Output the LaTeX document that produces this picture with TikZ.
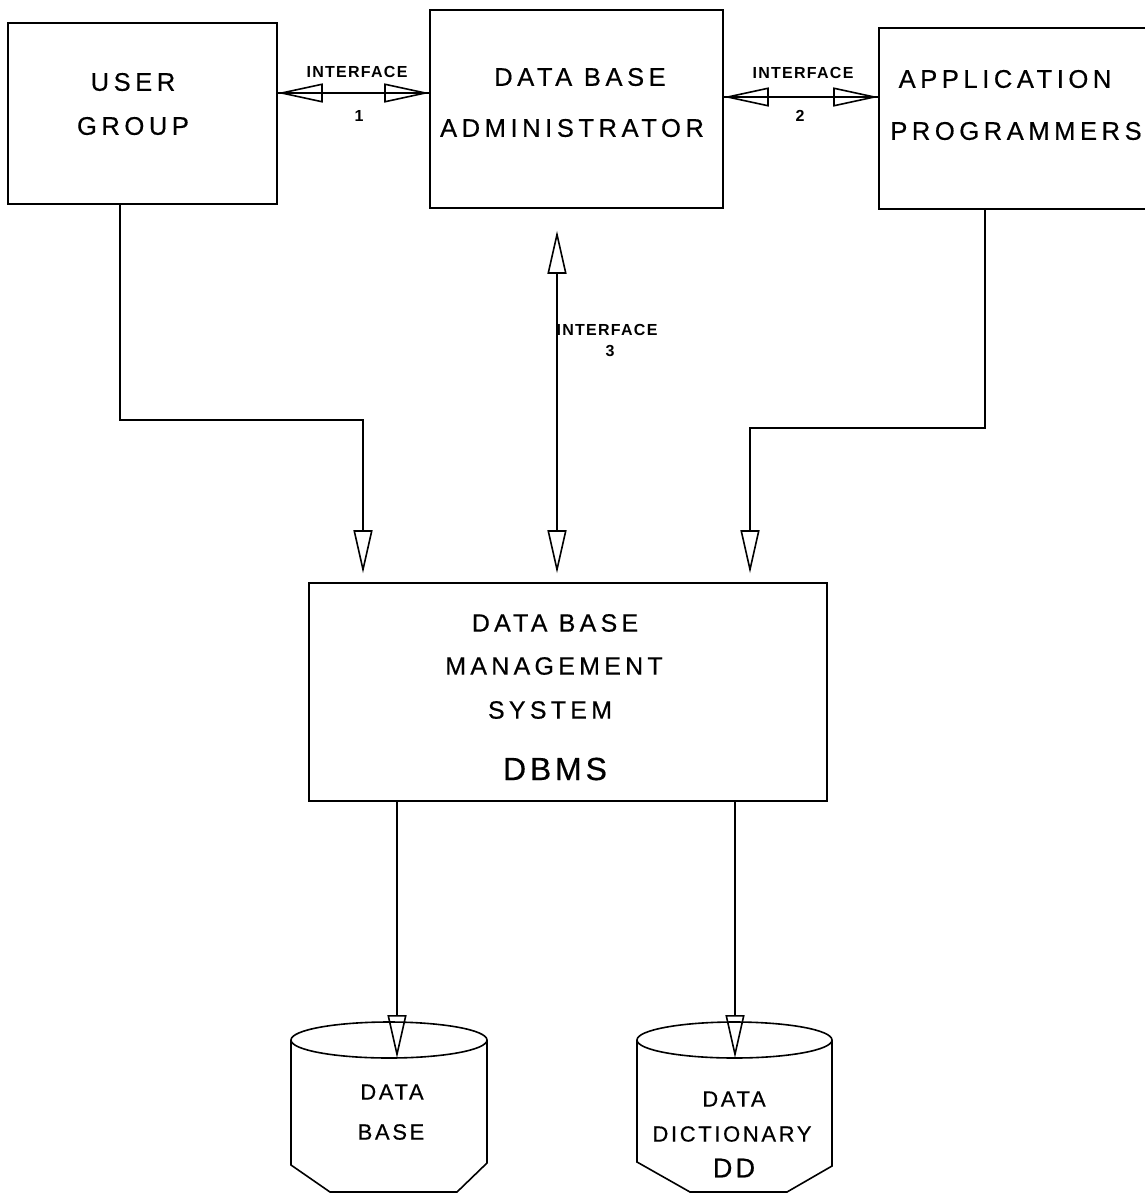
\documentclass[tikz,border=0pt]{standalone}
\usepackage{fontspec}
\setmainfont{Liberation Sans}
\newfontfamily\bigf[LetterSpace=18,FakeBold=0.5]{Liberation Sans}
\newfontfamily\midf[LetterSpace=17,FakeBold=0.5]{Liberation Sans}
\newfontfamily\cylf[LetterSpace=12,FakeBold=0.5]{Liberation Sans}
\newfontfamily\smf[LetterSpace=8]{Liberation Sans}
\usetikzlibrary{arrows.meta,calc}
\begin{document}
\begin{tikzpicture}[x=1pt,y=-1pt,line width=1.6pt,
  box/.style={draw,rectangle,inner sep=0pt,line width=1.6pt},
  bigtxt/.style={font=\bigf\fontsize{25.5}{30}\selectfont,inner sep=0pt},
  midtxt/.style={font=\midf\fontsize{25}{29}\selectfont,inner sep=0pt},
  dbmstxt/.style={font=\cylf\fontsize{32}{36}\selectfont,inner sep=0pt},
  cyltxt/.style={font=\cylf\fontsize{22}{26}\selectfont,inner sep=0pt},
  ddtxt/.style={font=\cylf\fontsize{27}{31}\selectfont,inner sep=0pt},
  smtxt/.style={font=\smf\bfseries\fontsize{16}{19}\selectfont,inner sep=0pt},
  tipend/.style={-{Triangle[open,length=43pt,width=19pt]}},
  tipboth/.style={{Triangle[open,length=43pt,width=19pt]}-{Triangle[open,length=43pt,width=19pt]}},
  tiphz/.style={{Triangle[open,length=45pt,width=19pt]}-{Triangle[open,length=45pt,width=19pt]}}
]
\useasboundingbox (0,0) rectangle (1145,1195);
\fill[white] (0,0) rectangle (1145,1195);

% boxes
\node[box,minimum width=269pt,minimum height=181pt] (ug) at (142.5,113.5) {};
\node[box,minimum width=293pt,minimum height=198pt] (dba) at (576.5,109) {};
\node[box,minimum width=271pt,minimum height=181pt] (ap) at (1014.5,118.5) {};
\node[box,minimum width=518pt,minimum height=218pt] (dbms) at (568,692) {};

% box texts
\node[bigtxt] (ug1) at (133,82) {USER};
\node[bigtxt] (ug2) at (133,126) {GROUP};
\node[bigtxt] (dba1) at (580,77) {DATA BASE};
\node[bigtxt] (dba2) at (572,128) {ADMINISTRATOR};
\node[bigtxt] (ap1) at (1005,79) {APPLICATION};
\node[bigtxt] (ap2) at (1016,131) {PROGRAMMERS};
\node[midtxt] (db1) at (555,623) {DATA BASE};
\node[midtxt] (db2) at (554,666) {MANAGEMENT};
\node[midtxt] (db3) at (550,710) {SYSTEM};
\node[dbmstxt] (db4) at (555,769) {DBMS};

% interfaces 1 and 2
\coordinate (i1) at (350,93);
\coordinate (i2) at (800,97);
\draw (ug.east |- i1) -- (dba.west |- i1);
\draw[tiphz] (ug.east |- i1) -- (dba.west |- i1);
\draw (dba.east |- i2) -- (ap.west |- i2);
\draw[tiphz] (dba.east |- i2) -- (ap.west |- i2);
\node[smtxt] (if1) at (357,72) {INTERFACE};
\node[smtxt] (if1n) at (359,116) {1};
\node[smtxt] (if2) at (803,73) {INTERFACE};
\node[smtxt] (if2n) at (800,116) {2};

% interface 3
\coordinate (i3) at (557,400);
\draw[tipboth,shorten <=22pt,shorten >=9pt] (dba.south -| i3) -- (dbms.north -| i3);
\node[smtxt] (if3) at (607,330) {INTERFACE};
\node[smtxt] (if3n) at (610,351) {3};

% user group -> dbms
\coordinate (ub1) at (120,420);
\coordinate (ub2) at (363,420);
\draw[tipend,shorten >=9pt] (ug.south -| ub1) -- (ub1) -- (ub2) -- (dbms.north -| ub2);

% application programmers -> dbms
\coordinate (ab1) at (985,428);
\coordinate (ab2) at (750,428);
\draw[tipend,shorten >=9pt] (ap.south -| ab1) -- (ab1) -- (ab2) -- (dbms.north -| ab2);

% cylinders
\coordinate (cA) at (389,1040);
\coordinate (cB) at (734.5,1040);
\draw (cA) ellipse [x radius=98, y radius=18];
\draw (291,1040) -- (291,1165) -- (330,1192) -- (457,1192) -- (487,1163) -- (487,1040);
\draw (cB) ellipse [x radius=97.5, y radius=18];
\draw (637,1040) -- (637,1162) -- (690,1192) -- (787,1192) -- (832,1166) -- (832,1040);
\coordinate (cAin) at (397,1058);
\coordinate (cBin) at (735,1058);
\draw[tipend] (dbms.south -| cAin) -- (cAin);
\draw[tipend] (dbms.south -| cBin) -- (cBin);

\node[cyltxt] (ca1) at (392,1092) {DATA};
\node[cyltxt] (ca2) at (391,1132) {BASE};
\node[cyltxt] (cb1) at (734,1099) {DATA};
\node[cyltxt] (cb2) at (732,1134) {DICTIONARY};
\node[ddtxt] (cb3) at (734,1168) {DD};
\end{tikzpicture}
\end{document}
